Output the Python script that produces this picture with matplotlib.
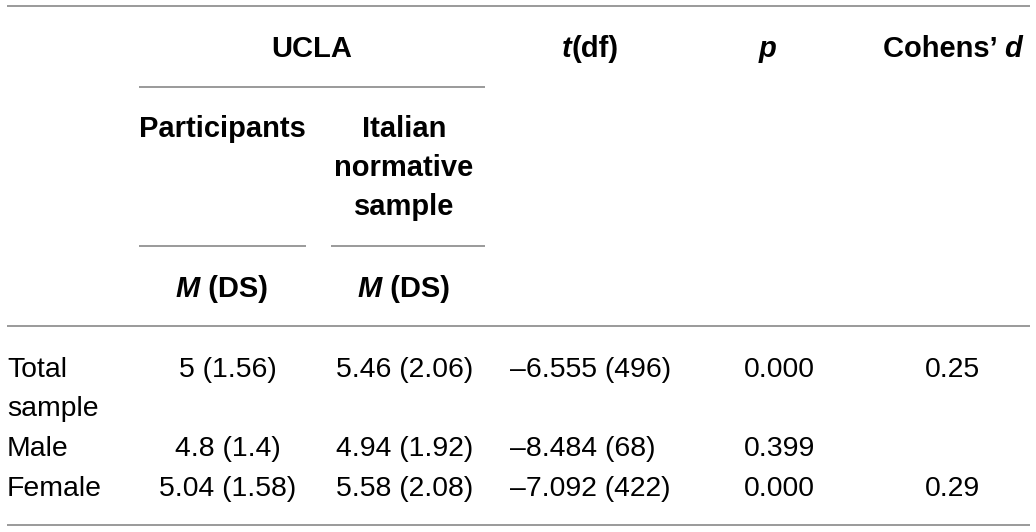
import matplotlib
matplotlib.use("Agg")
import matplotlib.pyplot as plt

# ---- data ----
row_labels = [["Total", "sample"], ["Male"], ["Female"]]
participants = ["5 (1.56)", "4.8 (1.4)", "5.04 (1.58)"]
normative = ["5.46 (2.06)", "4.94 (1.92)", "5.58 (2.08)"]
t_df = ["\u20136.555 (496)", "\u20138.484 (68)", "\u20137.092 (422)"]
p_vals = ["0.000", "0.399", "0.000"]
cohens_d = ["0.25", "", "0.29"]

W, H = 1036, 532
FONT = "Liberation Sans"
FS_H = 21.0
FS = 20.4
LINE_C = "#9a9a9a"
LW = 1.4

fig = plt.figure(figsize=(W / 100, H / 100), dpi=100)
ax = fig.add_axes([0, 0, 1, 1])
ax.set_xlim(0, W)
ax.set_ylim(H, 0)
ax.axis("off")
fig.canvas.draw()
renderer = fig.canvas.get_renderer()


def seg_text(x, y, segments, ha="center"):
    """segments: list of (text, weight, style)"""
    widths = []
    for s, w, st in segments:
        t = ax.text(0, 0, s, fontsize=FS_H, family=FONT, weight=w, style=st)
        bb = t.get_window_extent(renderer)
        widths.append(bb.width)
        t.remove()
    total = sum(widths)
    if ha == "center":
        x0 = x - total / 2
    elif ha == "right":
        x0 = x - total
    else:
        x0 = x
    for (s, w, st), wd in zip(segments, widths):
        ax.text(x0, y, s, fontsize=FS_H, family=FONT, weight=w, style=st,
                ha="left", va="baseline")
        x0 += wd


def hline(y, x0, x1):
    ax.plot([x0, x1], [y, y], color=LINE_C, lw=LW, solid_capstyle="butt")


# rules
hline(6, 7, 1030)
hline(87, 139, 485)
hline(246, 139, 306)
hline(246, 331, 485)
hline(326, 7, 1030)
hline(525, 7, 1030)

B, N = "bold", "normal"
# header
seg_text(312, 57, [("UCLA", B, N)])
seg_text(590, 57, [("t", B, "italic"), ("(df)", B, N)])
seg_text(768, 57, [("p", B, "italic")])
seg_text(1022, 57, [("Cohens\u2019 ", B, N), ("d", B, "italic")], ha="right")
seg_text(222, 137, [("Participants", B, N)])
for yy, s in zip([137, 176, 215], ["Italian", "normative", "sample"]):
    seg_text(404, yy, [(s, B, N)])
seg_text(222, 297, [("M", B, "italic"), (" (DS)", B, N)])
seg_text(404, 297, [("M", B, "italic"), (" (DS)", B, N)])

# body
row_base = [377, 456, 496]
for i, yb in enumerate(row_base):
    for k, lab in enumerate(row_labels[i]):
        ax.text(7, yb + 39.5 * k, lab, fontsize=FS, family=FONT,
                ha="left", va="baseline")
    ax.text(228, yb, participants[i], fontsize=FS, family=FONT,
            ha="center", va="baseline")
    ax.text(405, yb, normative[i], fontsize=FS, family=FONT,
            ha="center", va="baseline")
    ax.text(510, yb, t_df[i], fontsize=FS, family=FONT,
            ha="left", va="baseline")
    ax.text(744, yb, p_vals[i], fontsize=FS, family=FONT,
            ha="left", va="baseline")
    if cohens_d[i]:
        ax.text(952, yb, cohens_d[i], fontsize=FS, family=FONT,
                ha="center", va="baseline")

fig.savefig("out.png", dpi=100, facecolor="white")
